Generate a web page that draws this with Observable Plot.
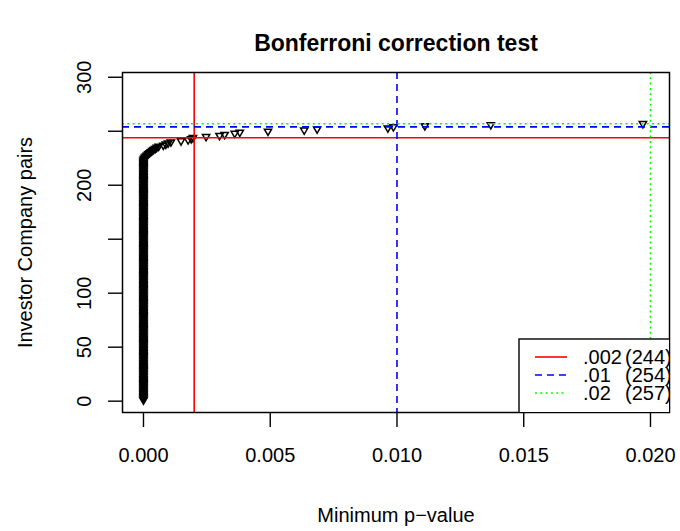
<!DOCTYPE html>
<html>
<head>
<meta charset="utf-8">
<script src="https://cdn.jsdelivr.net/npm/d3@7"></script>
<script src="https://cdn.jsdelivr.net/npm/@observablehq/plot@0.6"></script>
<style>
  html, body { margin: 0; padding: 0; background: white; }
  #chart { width: 680px; height: 531px; }
</style>
</head>
<body>
<div id="chart"></div>
<script>
// ---- data ----
const titleText = "Bonferroni correction test";
const xLabel = "Minimum p\u2212value";
const yLabel = "Investor Company pairs";

// minimum p-values sorted ascending; y = rank (number of investor–company pairs)
const minPValues = [
  0,0,0,0,0,0,0,0,0,0,0,0,0,0,0,0,0,0,0,0,
  0,0,0,0,0,0,0,0,0,0,0,0,0,0,0,0,0,0,0,0,
  0,0,0,0,0,0,0,0,0,0,0,0,0,0,0,0,0,0,0,0,
  0,0,0,0,0,0,0,0,0,0,0,0,0,0,0,0,0,0,0,0,
  0,0,0,0,0,0,0,0,0,0,0,0,0,0,0,0,0,0,0,0,
  0,0,0,0,0,0,0,0,0,0,0,0,0,0,0,0,0,0,0,0,
  0,0,0,0,0,0,0,0,0,0,0,0,0,0,0,0,0,0,0,0,
  0,0,0,0,0,0,0,0,0,0,0,0,0,0,0,0,0,0,0,0,
  0,0,0,0,0,0,0,0,0,0,0,0,0,0,0,0,0,0,0,0,
  0,0,0,0,0,0,0,0,0,0,0,0,0,0,0,0,0,0,0,0,
  0,0,0,0,0,0,0,0,0,0,0,0,0,0,0,0,0,0,0,0,
  0,0,
  0, 0.00001, 0.00003, 0.00006, 0.0001, 0.00014, 0.00019, 0.00024, 0.00029, 0.00034,
  0.0004, 0.00046, 0.00052, 0.0006, 0.00078, 0.00088, 0.00097, 0.00108, 0.00148, 0.00176,
  0.00188, 0.00195, 0.00247, 0.003, 0.0032, 0.0036, 0.0038, 0.00491, 0.00634, 0.00685,
  0.00964, 0.00986, 0.0111, 0.0137, 0.0197
];

const thresholds = [0.002, 0.01, 0.02];
const thresholdCounts = [244, 254, 257];
const thresholdColors = ["#FF0000", "#0000FF", "#00FF00"];
const thresholdDashes = [null, "7,5", "2,3.3"];
const legendLabels = [".002", ".01", ".02"];
const legendCounts = ["(244)", "(254)", "(257)"];

const xTicks = [0, 0.005, 0.01, 0.015, 0.02];
const yTicks = [0, 50, 100, 150, 200, 250, 300];
const yTickLabels = ["0", "50", "100", "", "200", "", "300"];

// ---- build ----
const points = minPValues.map((p, i) => ({p, rank: i + 1}));
const thr = thresholds.map((t, i) => ({t, n: thresholdCounts[i], color: thresholdColors[i], dash: thresholdDashes[i]}));
const yLab = yTicks.map((v, i) => ({v, label: yTickLabels[i]})).filter(d => d.label !== "");

const W = 680, H = 531, mL = 122, mR = 11, mT = 72, mB = 119;
const font = "Liberation Sans, Arial, Helvetica, sans-serif";

const marks = [
  Plot.axisX({ticks: xTicks, tickSize: 15, tickPadding: 20, tickFormat: d3.format(".3f"),
    fontSize: 20, label: null, strokeWidth: 1.4, stroke: "black", fill: "black"}),
  Plot.axisY({ticks: yTicks, tickSize: 14, tickFormat: () => "", label: null, strokeWidth: 1.4}),
  Plot.text(yLab, {y: "v", text: "label", frameAnchor: "left", textAnchor: "middle", lineAnchor: "middle",
    dx: -38, rotate: -90, fontSize: 20, fill: "black"}),
  Plot.text([titleText], {frameAnchor: "top", textAnchor: "middle", lineAnchor: "middle", dy: -29,
    fontSize: 23, fontWeight: "bold", fill: "black"}),
  Plot.text([xLabel], {frameAnchor: "bottom", textAnchor: "middle", lineAnchor: "middle", dy: 103,
    fontSize: 20, fill: "black"}),
  Plot.text([yLabel], {frameAnchor: "left", textAnchor: "middle", lineAnchor: "middle", dx: -97,
    rotate: -90, fontSize: 20, fill: "black"}),
  Plot.dot(points, {x: "p", y: "rank", symbol: "triangle", rotate: 180, r: 2.7, stroke: "black",
    strokeWidth: 1.5, fill: "none"})
];
thr.forEach(d => {
  marks.push(Plot.ruleX([d.t], {stroke: d.color, strokeWidth: 1.6, strokeDasharray: d.dash}));
  marks.push(Plot.ruleY([d.n], {stroke: d.color, strokeWidth: 1.6, strokeDasharray: d.dash}));
});
marks.push(Plot.frame({stroke: "black", strokeWidth: 1.5}));

const chart = Plot.plot({
  width: W, height: H,
  marginLeft: mL, marginRight: mR, marginTop: mT, marginBottom: mB,
  style: {fontFamily: font, background: "white", color: "black", overflow: "visible"},
  x: {domain: [-0.000828, 0.02075]},
  y: {domain: [-10.5, 304.4]},
  marks
});

// ---- legend (clipped to the plot region, like the R original) ----
const svg = d3.select(chart);
const fr = W - mR, fb = H - mB;
svg.append("defs").append("clipPath").attr("id", "plotclip")
  .append("rect").attr("x", mL).attr("y", mT).attr("width", W - mL - mR).attr("height", H - mT - mB);
const lg = svg.append("g").attr("clip-path", "url(#plotclip)").attr("text-anchor", "start");
lg.append("rect").attr("x", fr - 150).attr("y", fb - 73).attr("width", 170).attr("height", 80)
  .attr("fill", "white").attr("stroke", "black").attr("stroke-width", 1.4);
const rowY = [-55, -37, -19];
thr.forEach((d, i) => {
  lg.append("line").attr("x1", fr - 134).attr("x2", fr - 102).attr("y1", fb + rowY[i]).attr("y2", fb + rowY[i])
    .attr("stroke", d.color).attr("stroke-width", 1.6).attr("stroke-dasharray", d.dash);
  lg.append("text").attr("x", fr - 86).attr("y", fb + rowY[i]).attr("dy", "0.36em").attr("text-anchor", "start")
    .attr("font-size", 20).attr("font-family", font).attr("fill", "black").text(legendLabels[i]);
  lg.append("text").attr("x", fr - 44).attr("y", fb + rowY[i]).attr("dy", "0.36em").attr("text-anchor", "start")
    .attr("font-size", 20).attr("font-family", font).attr("fill", "black").text(legendCounts[i]);
});
svg.select("g[aria-label='frame']").raise();

document.getElementById("chart").appendChild(chart);
</script>
</body>
</html>
